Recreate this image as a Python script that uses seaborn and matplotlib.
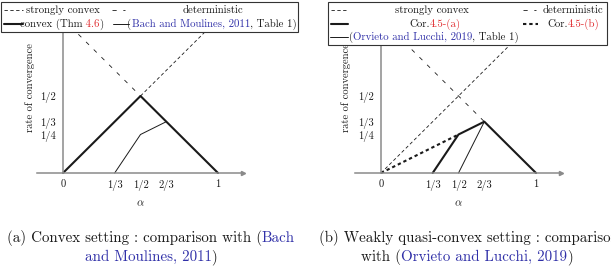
import matplotlib
matplotlib.use("Agg")
import matplotlib.pyplot as plt
import seaborn as sns
from matplotlib.patches import Rectangle

# tick positions / labels
xtick_pos = [0, 1/3, 1/2, 2/3, 1]
xtick_lab = ["0", "1/3", "1/2", "2/3", "1"]
ytick_pos = [1/4, 1/3, 1/2]
ytick_lab = ["1/4", "1/3", "1/2"]

# (a) convex setting
alpha_convex = [0, 1/2, 1]
rate_convex = [0, 1/2, 0]
alpha_bach = [1/3, 1/2, 2/3]
rate_bach = [0, 1/4, 1/3]
alpha_sc_a = [1/2, 1]
rate_sc_a = [1/2, 1]
alpha_det_a = [0, 1/2]
rate_det_a = [1, 1/2]

# (b) weakly quasi-convex setting
alpha_cor_a = [1/3, 1/2, 2/3, 1]
rate_cor_a = [0, 1/4, 1/3, 0]
alpha_cor_b = [0, 1/2]
rate_cor_b = [0, 1/4]
alpha_orvieto = [1/2, 2/3]
rate_orvieto = [0, 1/3]
alpha_sc_b = [0, 1]
rate_sc_b = [0, 1]
alpha_det_b = [0, 2/3]
rate_det_b = [1, 1/3]

K = "#1a1a1a"
RED = "#e0282c"
BLUE = "#3030a8"
GRAY = "#8a8a8a"

# line styles
THICK = dict(color=K, lw=1.5, linestyle="-")
THIN = dict(color=K, lw=0.7, linestyle="-")
SC = dict(color=K, lw=0.6, linestyle=(0, (4, 3)))
DET = dict(color=K, lw=0.6, linestyle=(0, (5, 8)))
THICKDASH = dict(color=K, lw=1.5, linestyle=(0, (1.6, 1.4)))

sns.set_style("white")
plt.rcParams["font.family"] = ["cmr10", "DejaVu Serif"]
plt.rcParams["mathtext.fontset"] = "cm"
plt.rcParams["axes.unicode_minus"] = False

fig = plt.figure(figsize=(6.11, 2.71), dpi=100)
W, H = 611, 271

# axes geometry in pixels: alpha=0 at x0, 155 px per unit
xlim = (-0.17, 1.16)
ylim = (-0.03, 1.0)
ax_w = (xlim[1] - xlim[0]) * 155
ax_h = (ylim[1] - ylim[0]) * 154
ax_bottom_px = 173 + 0.03 * 154


def make_axes(origin_px):
    left = origin_px + xlim[0] * 155
    return fig.add_axes([left / W, (H - ax_bottom_px) / H, ax_w / W, ax_h / H])


def draw(ax, x, y, style):
    sns.lineplot(x=x, y=y, ax=ax, estimator=None, sort=False, **style)


def style_axes(ax, label_x):
    ax.set_xlim(*xlim)
    ax.set_ylim(*ylim)
    for side in ["top", "right"]:
        ax.spines[side].set_visible(False)
    ax.spines["left"].set_position(("data", 0))
    ax.spines["bottom"].set_position(("data", 0))
    ax.spines["left"].set_bounds(0, 1)
    for side in ["left", "bottom"]:
        ax.spines[side].set_color(GRAY)
        ax.spines[side].set_linewidth(1.1)
    ax.set_xticks(xtick_pos, xtick_lab)
    ax.set_yticks(ytick_pos, ytick_lab)
    ax.tick_params(direction="inout", length=4, width=0.7, color=GRAY,
                   labelsize=7.6, pad=3, labelcolor=K)
    ax.plot(1, 0, marker=">", ms=3, color=GRAY,
            transform=ax.get_yaxis_transform(), clip_on=False)
    ax.set_xlabel(r"$\alpha$", fontsize=8, color=K)
    ax.xaxis.set_label_coords(0.505, -0.135)
    ax.set_ylabel("rate of convergence", fontsize=7.6, color=K, va="center")
    ax.yaxis.set_label_coords(label_x, 0.57)
    ax.set_facecolor("none")


# left panel
ax1 = make_axes(63)
draw(ax1, alpha_det_a, rate_det_a, DET)
draw(ax1, alpha_sc_a, rate_sc_a, SC)
draw(ax1, alpha_bach, rate_bach, THIN)
draw(ax1, alpha_convex, rate_convex, THICK)
style_axes(ax1, -0.032)

# right panel
ax2 = make_axes(381)
draw(ax2, alpha_det_b, rate_det_b, DET)
draw(ax2, alpha_sc_b, rate_sc_b, SC)
draw(ax2, alpha_orvieto, rate_orvieto, THIN)
draw(ax2, alpha_cor_b, rate_cor_b, THICKDASH)
draw(ax2, alpha_cor_a, rate_cor_a, THICK)
style_axes(ax2, -0.040)

# overlay in pixel coordinates for legends and captions
ov = fig.add_axes([0, 0, 1, 1])
ov.set_xlim(0, W)
ov.set_ylim(H, 0)
ov.axis("off")
ov.set_zorder(10)
renderer = fig.canvas.get_renderer()


def rich_text(x, y, parts, size, ha="left"):
    arts = [ov.text(x, y, s, color=c, fontsize=size, va="center", ha="left")
            for s, c in parts]
    widths = [t.get_window_extent(renderer).width for t in arts]
    start = x - sum(widths) / 2 if ha == "center" else x
    for t, w in zip(arts, widths):
        t.set_x(start)
        start += w


def legend_box(x0, y0, x1, y1):
    ov.add_patch(Rectangle((x0, y0), x1 - x0, y1 - y0, facecolor="white",
                           edgecolor="#333333", lw=0.8))


def handle(x0, x1, y, style):
    ov.plot([x0, x1], [y, y], **style)


FS = 7.8

# left legend
legend_box(1, 2, 298, 32)
handle(4, 23, 10, SC)
rich_text(63, 10, [("strongly convex", K)], FS, "center")
handle(112, 125, 10, DET)
rich_text(213, 10, [("deterministic", K)], FS, "center")
handle(4, 23, 24, THICK)
rich_text(62, 24, [("convex (Thm", K), (" 4.6", RED), (")", K)], FS, "center")
handle(113, 129, 24, THIN)
rich_text(212, 24, [("(", K), ("Bach and Moulines, 2011", BLUE),
                    (", Table 1)", K)], FS, "center")

# right legend
legend_box(328, 2, 607, 45)
handle(331, 348, 10, SC)
rich_text(432, 10, [("strongly convex", K)], FS, "center")
handle(523, 536, 10, DET)
rich_text(573, 10, [("deterministic", K)], FS, "center")
handle(331, 348, 24, THICK)
rich_text(435, 24, [("Cor.", K), ("4.5-(a)", RED)], FS, "center")
handle(523, 538, 24, THICKDASH)
rich_text(573, 24, [("Cor.", K), ("4.5-(b)", RED)], FS, "center")
handle(330, 348, 37, THIN)
rich_text(349, 37, [("(", K), ("Orvieto and Lucchi, 2019", BLUE),
                    (", Table 1)", K)], FS)

# captions
CS = 10.8
rich_text(151, 238, [("(a) Convex setting : comparison with (", K),
                     ("Bach", BLUE)], CS, "center")
rich_text(151, 257, [("and Moulines, 2011", BLUE), (")", K)], CS, "center")
rich_text(319, 238, [("(b) Weakly quasi-convex setting : comparison", K)], CS)
rich_text(467, 257, [("with (", K), ("Orvieto and Lucchi, 2019", BLUE),
                     (")", K)], CS, "center")

fig.savefig("out.png", dpi=100)
